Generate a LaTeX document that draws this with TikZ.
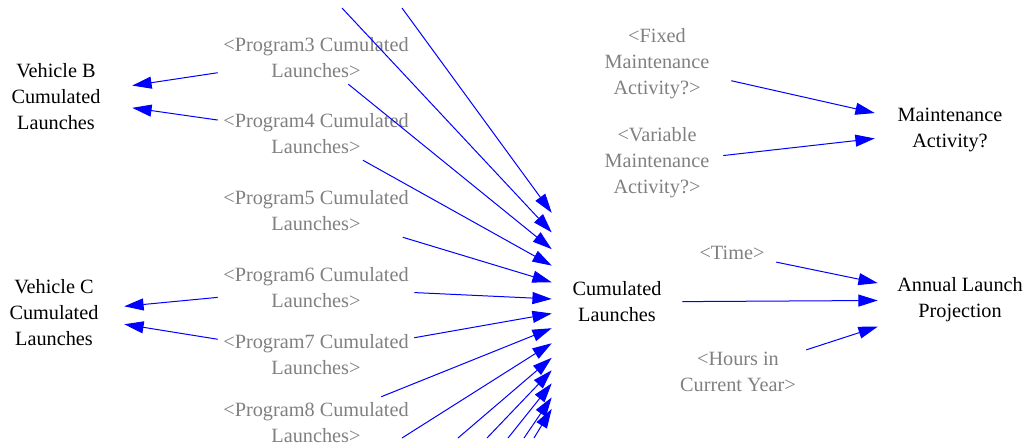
\documentclass[tikz,border=0pt]{standalone}
\usepackage{fontspec}
\setmainfont{Liberation Serif}
\usetikzlibrary{arrows.meta}
\definecolor{lnk}{RGB}{0,0,255}
\definecolor{shadowtext}{RGB}{128,128,128}
\tikzset{
  var/.style={align=center, inner sep=0pt, font=\fontsize{15.2}{19.5}\selectfont, text=black},
  ghost/.style={var, text=shadowtext},
  lnkarrow/.style={draw=lnk, line width=0.75pt, -{Triangle[length=14.5pt,width=9pt]}},
}
\begin{document}
\begin{tikzpicture}[x=0.75pt,y=-0.75pt]
\useasboundingbox (0,0) rectangle (1029,443);

% main variables
\node[var, minimum width=114pt, minimum height=60pt] (vb) at (56,97) {Vehicle B\\Cumulated\\Launches};
\node[var, minimum width=105pt, minimum height=60pt] (vc) at (54,313) {Vehicle C\\Cumulated\\Launches};
\node[var, minimum width=97.5pt, minimum height=168pt] (cl) at (617,302) {Cumulated\\Launches};
\node[var, minimum width=123pt, minimum height=52.5pt] (alp) at (960,300) {Annual Launch\\Projection};
\node[var, minimum width=112.5pt, minimum height=52.5pt] (ma) at (950,130) {Maintenance\\Activity?};

% shadow variables
\node[ghost, minimum width=147pt, minimum height=39pt] (p3) at (316,58) {<Program3 Cumulated\\Launches>};
\node[ghost, minimum width=147pt, minimum height=39pt] (p4) at (316,134) {<Program4 Cumulated\\Launches>};
\node[ghost, minimum width=147pt, minimum height=39pt] (p5) at (316,211) {<Program5 Cumulated\\Launches>};
\node[ghost, minimum width=147pt, minimum height=39pt] (p6) at (316,288) {<Program6 Cumulated\\Launches>};
\node[ghost, minimum width=147pt, minimum height=39pt] (p7) at (316,355) {<Program7 Cumulated\\Launches>};
\node[ghost, minimum width=147pt, minimum height=39pt] (p8) at (316,423) {<Program8 Cumulated\\Launches>};
\node[ghost, minimum width=111pt, minimum height=60pt] (fma) at (657,64) {<Fixed\\Maintenance\\Activity?>};
\node[ghost, minimum width=99pt, minimum height=60pt] (vma) at (657,163) {<Variable\\Maintenance\\Activity?>};
\node[ghost, minimum width=66pt, minimum height=22.5pt] (tm) at (732,253) {<Time>};
\node[ghost, minimum width=102pt, minimum height=45pt] (hrs) at (738,372) {<Hours in\\Current Year>};

% free ends of connectors coming from outside the picture
\coordinate (t1) at (402,8);
\coordinate (t2) at (342,8);
\coordinate (b1) at (402,438);
\coordinate (b2) at (458,438);
\coordinate (b3) at (487,438);
\coordinate (b4) at (508,438);
\coordinate (b5) at (524,438);
\coordinate (b6) at (534,438);

% connectors
\draw[lnkarrow] (p3) -- (vb);
\draw[lnkarrow] (p4) -- (vb);
\draw[lnkarrow] (p6) -- (vc);
\draw[lnkarrow] (p7) -- (vc);

\draw[lnkarrow] (t1) -- (cl);
\draw[lnkarrow] (t2) -- (cl);
\draw[lnkarrow] (p3) -- (cl);
\draw[lnkarrow] (p4) -- (cl);
\draw[lnkarrow] (p5) -- (cl);
\draw[lnkarrow] (p6) -- (cl);
\draw[lnkarrow] (p7) -- (cl);
\draw[lnkarrow] (p8) -- (cl);
\draw[lnkarrow] (b1) -- (cl);
\draw[lnkarrow] (b2) -- (cl);
\draw[lnkarrow] (b3) -- (cl);
\draw[lnkarrow] (b4) -- (cl);
\draw[lnkarrow] (b5) -- (cl);
\draw[lnkarrow] (b6) -- (cl);

\draw[lnkarrow] (fma) -- (ma);
\draw[lnkarrow] (vma) -- (ma);
\draw[lnkarrow] (tm) -- (alp);
\draw[lnkarrow] (cl) -- (alp);
\draw[lnkarrow] (hrs) -- (alp);
\end{tikzpicture}
\end{document}
